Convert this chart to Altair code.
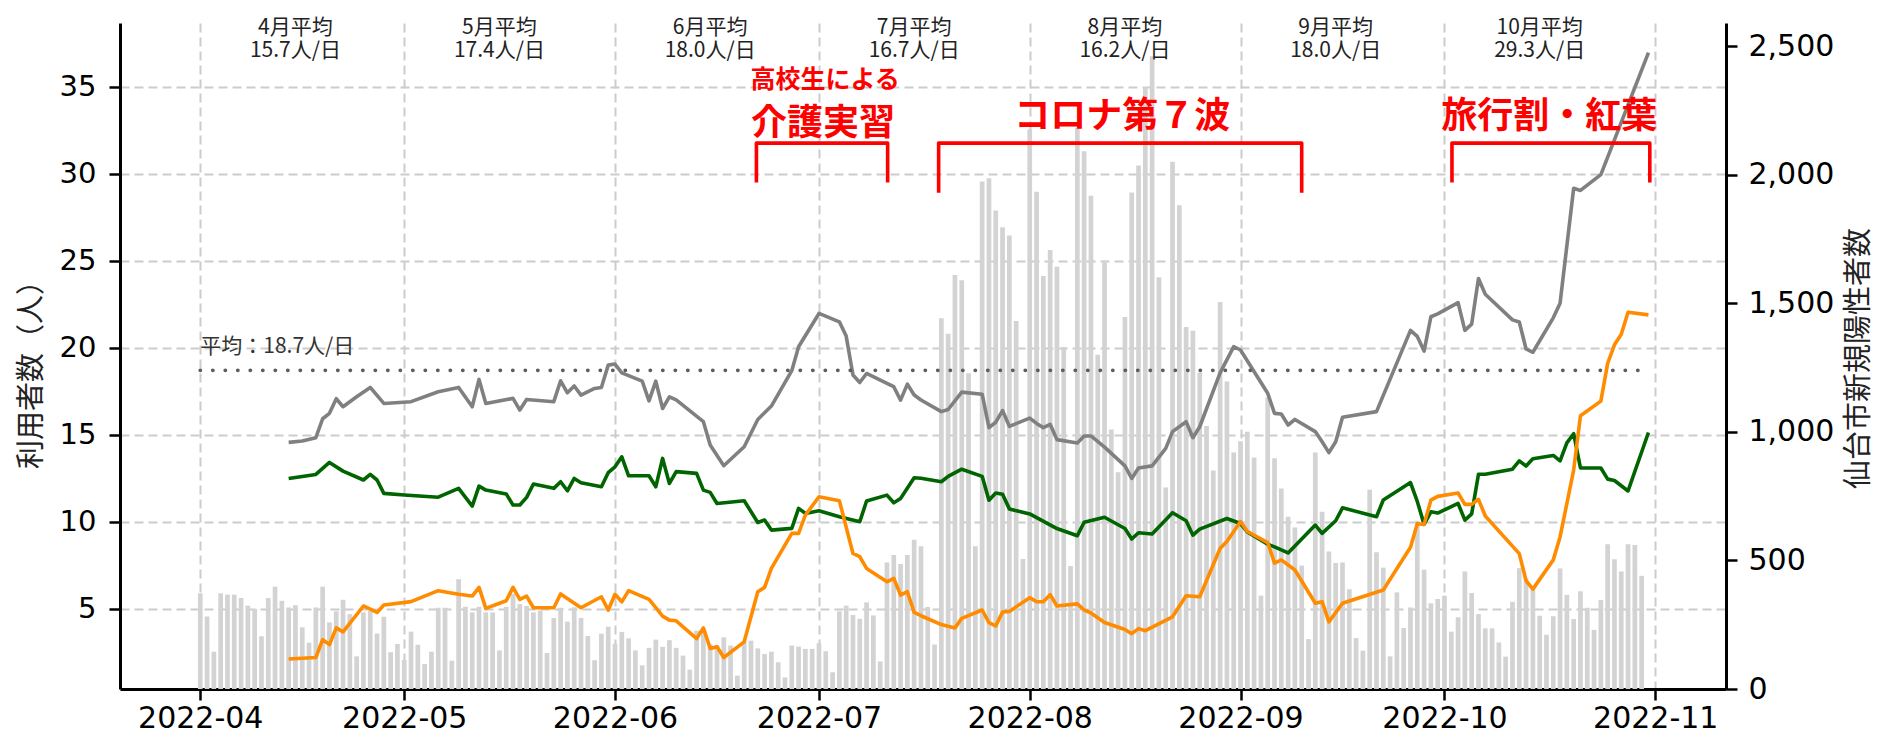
import altair as alt
import pandas as pd

START = pd.Timestamp("2022-04-01")


def iso(d):
    return (START + pd.Timedelta(days=d)).strftime("%Y-%m-%dT%H:%M:%SZ")


def ms(d):
    return int((START + pd.Timedelta(days=d)).value // 1_000_000)


# ---- daily new positives in Sendai (right axis), 2022-04-01 .. 2022-10-30 ----
positives = [
    372, 282, 145, 372, 367, 367, 354, 324, 311, 205,
    354, 398, 343, 317, 326, 240, 180, 317, 398, 259,
    302, 347, 291, 127, 298, 304, 216, 281, 143, 175,
    113, 223, 172, 97, 145, 316, 316, 110, 427, 320,
    298, 320, 298, 298, 150, 320, 370, 330, 323, 298,
    305, 140, 276, 316, 262, 318, 276, 206, 112, 215,
    242, 176, 222, 197, 150, 92, 160, 192, 164, 190,
    160, 130, 75, 227, 221, 175, 171, 201, 169, 52,
    184, 188, 158, 136, 145, 104, 45, 169, 165, 156,
    156, 178, 147, 65, 302, 324, 288, 273, 337, 286,
    107, 492, 521, 486, 521, 580, 555, 319, 173, 1442,
    1382, 1610, 1590, 1228, 555, 1974, 1986, 1861, 1796, 1764,
    1431, 506, 2177, 1934, 1606, 1707, 1642, 1330, 478, 2182,
    2091, 1918, 1300, 1666, 1009, 843, 1447, 1931, 2036, 2340,
    2461, 1601, 784, 2050, 1881, 1408, 1393, 1231, 1023, 850,
    1505, 1196, 920, 963, 1000, 900, 363, 1134, 897, 780,
    670, 628, 480, 194, 920, 689, 535, 490, 492, 388,
    198, 149, 775, 532, 472, 127, 376, 237, 317, 654,
    464, 333, 350, 363, 223, 279, 457, 373, 291, 236,
    236, 181, 126, 339, 470, 430, 395, 285, 211, 283,
    469, 366, 272, 380, 316, 230, 346, 563, 505, 457,
    563, 560, 440,
]

# ---- user counts (left axis); day = days after 2022-04-01 ----
gray_day = [13, 15, 17, 18, 19, 20, 21, 23, 25, 27, 31, 35, 38, 40, 41, 42, 46, 47, 48, 52,
            53, 54, 55, 56, 58, 59, 60, 61, 62, 65, 66, 67, 68, 69, 70, 74, 75, 77, 80, 82,
            84, 87, 88, 91, 94, 95, 96, 97, 98, 101, 102, 103, 104, 105, 106, 109, 110, 112, 115, 116,
            117, 118, 119, 122, 123, 124, 125, 126, 129, 130, 131, 133, 136, 137, 138, 140, 142, 143, 145, 146,
            147, 150, 152, 153, 157, 158, 159, 160, 161, 164, 165, 166, 167, 168, 173, 178, 179, 180, 181, 182,
            185, 186, 187, 188, 189, 193, 194, 195, 196, 199, 200, 202, 203, 206, 213]
gray_val = [14.56, 14.64, 14.83, 15.92, 16.23, 17.07, 16.61, 17.18, 17.72, 16.80, 16.9, 17.47, 17.72, 16.61, 18.18, 16.8, 17.09, 16.42, 17.03, 16.9,
            18.1, 17.41, 17.8, 17.28, 17.66, 17.72, 19.0, 19.06, 18.56, 18.08, 16.95, 18.08, 16.51, 17.18, 17.0, 15.75, 14.41, 13.22, 14.31, 15.88,
            16.65, 18.68, 20.06, 21.97, 21.49, 20.67, 18.43, 18.0, 18.52, 17.95, 17.76, 16.99, 17.91, 17.28, 17.0, 16.33, 16.45, 17.45, 17.33, 15.41,
            15.72, 16.39, 15.48, 15.96, 15.65, 15.41, 15.6, 14.72, 14.53, 14.93, 14.93, 14.29, 13.21, 12.49, 13.09, 13.21, 14.22, 15.18, 15.75, 14.83,
            15.46, 18.56, 20.06, 19.87, 17.38, 16.23, 16.19, 15.56, 15.88, 15.18, 14.6, 13.97, 14.6, 16.0, 16.33, 21.0, 20.65, 19.81, 21.78, 21.95,
            22.59, 21.0, 21.36, 23.98, 23.07, 21.6, 21.48, 19.93, 19.74, 21.72, 22.56, 29.16, 29.04, 29.95, 36.96]

green_day = [13, 17, 19, 21, 24, 25, 26, 27, 30, 35, 38, 40, 41, 42, 45, 46, 47, 48, 49, 52,
             53, 54, 55, 56, 59, 60, 61, 62, 63, 66, 67, 68, 69, 70, 73, 74, 75, 76, 80, 82,
             83, 84, 87, 88, 89, 91, 94, 97, 98, 101, 102, 103, 105, 106, 109, 110, 112, 115, 116, 117,
             118, 119, 122, 126, 129, 130, 133, 136, 137, 138, 140, 143, 145, 146, 147, 151, 153, 154, 157, 158,
             160, 164, 165, 167, 168, 173, 174, 178, 179, 180, 181, 182, 185, 186, 187, 188, 189, 193, 194, 195,
             196, 199, 200, 201, 202, 203, 206, 207, 208, 210, 213]
green_val = [12.49, 12.72, 13.41, 12.91, 12.4, 12.72, 12.4, 11.63, 11.54, 11.41, 11.92, 10.9, 12.05, 11.82, 11.6, 10.96, 10.96, 11.4, 12.17, 11.92,
             12.3, 11.78, 12.49, 12.24, 12.01, 12.82, 13.16, 13.73, 12.64, 12.64, 12.01, 13.64, 12.2, 12.88, 12.78, 11.82, 11.69, 11.05, 11.21, 9.96,
             10.1, 9.52, 9.62, 10.77, 10.48, 10.63, 10.29, 10.0, 11.19, 11.53, 11.09, 11.34, 12.53, 12.5, 12.3, 12.61, 13.02, 12.61, 11.24, 11.65,
             11.58, 10.74, 10.45, 9.61, 9.2, 9.97, 10.26, 9.61, 9.01, 9.37, 9.3, 10.52, 10.06, 9.23, 9.58, 10.19, 9.9, 9.42, 8.71, 8.56,
             8.21, 9.81, 9.33, 10.06, 10.8, 10.29, 11.25, 12.25, 11.17, 9.85, 10.57, 10.5, 11.05, 10.09, 10.45, 12.73, 12.73, 13.02, 13.5, 13.2,
             13.62, 13.81, 13.5, 14.53, 15.06, 13.09, 13.09, 12.45, 12.37, 11.77, 15.13]

orange_day = [13, 17, 18, 19, 20, 21, 24, 26, 27, 31, 35, 38, 40, 41, 42, 45, 46, 47, 48, 49,
              52, 53, 56, 59, 60, 61, 62, 63, 66, 67, 68, 69, 70, 73, 74, 75, 76, 77, 80, 82,
              83, 84, 87, 88, 89, 91, 94, 96, 97, 98, 101, 102, 103, 104, 105, 106, 109, 111, 112, 115,
              116, 117, 118, 119, 122, 123, 124, 125, 126, 129, 130, 131, 133, 136, 137, 138, 139, 143, 145, 147,
              150, 151, 153, 154, 157, 158, 159, 161, 164, 165, 166, 168, 174, 178, 179, 180, 181, 182, 185, 186,
              187, 188, 189, 194, 195, 196, 199, 200, 202, 203, 206, 207, 208, 209, 210, 213]
orange_val = [2.11, 2.2, 3.23, 2.94, 3.9, 3.67, 5.16, 4.79, 5.22, 5.41, 6.04, 5.83, 5.73, 6.23, 5.02, 5.46, 6.23, 5.54, 5.73, 5.06,
              5.06, 5.85, 5.06, 5.69, 4.92, 5.83, 5.4, 6.04, 5.54, 5.06, 4.58, 4.35, 4.31, 3.29, 3.9, 2.72, 2.82, 2.2, 3.1, 5.98,
              6.23, 7.32, 9.33, 9.33, 10.38, 11.44, 11.21, 8.18, 7.99, 7.32, 6.55, 6.75, 5.79, 5.98, 4.79, 4.6, 4.09, 3.9, 4.45, 4.93,
              4.21, 4.02, 4.81, 4.85, 5.64, 5.4, 5.4, 5.81, 5.16, 5.28, 4.93, 4.76, 4.21, 3.81, 3.57, 3.86, 3.74, 4.54, 5.75, 5.69,
              8.47, 8.86, 10.01, 9.44, 8.8, 7.62, 7.81, 7.23, 5.32, 5.41, 4.25, 5.32, 6.08, 8.53, 9.89, 9.85, 11.24, 11.46, 11.65, 11.0,
              11.0, 11.29, 10.33, 8.17, 6.61, 6.13, 7.81, 9.13, 12.97, 16.09, 16.93, 19.1, 20.17, 20.77, 22.04, 21.89]

overall_avg = 18.7
avg_label = "平均：18.7人/日"

month_titles = ["4月平均", "5月平均", "6月平均", "7月平均", "8月平均", "9月平均", "10月平均"]
month_avgs = ["15.7人/日", "17.4人/日", "18.0人/日", "16.7人/日", "16.2人/日", "18.0人/日", "29.3人/日"]
month_mid_day = [14, 44, 75, 105, 136, 167, 197]

red_texts = ["高校生による", "介護実習", "コロナ第７波", "旅行割・紅葉"]
red_text_day = [91.9, 91.6, 135.6, 198.4]
red_text_y = [35.38, 32.86, 33.25, 33.25]
red_text_size = [25, 36, 36, 36]

bracket_left = [81.8, 108.6, 184.1]
bracket_right = [101.1, 162.0, 213.2]
bracket_bottom = [29.5, 28.9, 29.5]
bracket_top = 31.76

# ---- tables ----
bars_df = pd.DataFrame({"date": [iso(i) for i in range(len(positives))], "pos": positives})
lines_df = pd.concat([
    pd.DataFrame({"date": [iso(d) for d in gray_day], "v": gray_val, "s": "a"}),
    pd.DataFrame({"date": [iso(d) for d in green_day], "v": green_val, "s": "b"}),
    pd.DataFrame({"date": [iso(d) for d in orange_day], "v": orange_val, "s": "c"}),
])
avg_df = pd.DataFrame({"x1": [iso(0)], "x2": [iso(213)], "y": [overall_avg]})
avg_txt_df = pd.DataFrame({"x": [iso(0)], "y": [20.05], "t": [avg_label]})
month_df = pd.DataFrame({"x": [iso(d) for d in month_mid_day],
                         "t": [a + "\n" + b for a, b in zip(month_titles, month_avgs)],
                         "y": [38.37] * len(month_titles)})
red_df = pd.DataFrame({"x": [iso(d) for d in red_text_day], "y": red_text_y, "t": red_texts, "fs": red_text_size})
br_rows = []
for k in range(len(bracket_left)):
    pts = [(bracket_left[k], bracket_bottom[k]), (bracket_left[k], bracket_top),
           (bracket_right[k], bracket_top), (bracket_right[k], bracket_bottom[k])]
    for j, (xd, yv) in enumerate(pts):
        br_rows.append({"x": iso(xd), "y": yv, "g": k, "o": j})
br_df = pd.DataFrame(br_rows)

# ---- scales / axes ----
xscale = alt.Scale(type="utc", domain=[ms(-11.07), ms(223.67)], nice=False)
yleft = alt.Scale(domain=[0.39, 38.66], nice=False, zero=False)
yright = alt.Scale(domain=[0, 2590], nice=False, zero=False)

month_ticks = [ms((pd.Timestamp(f"2022-{m:02d}-01") - START).days) for m in range(4, 12)]

xaxis = alt.Axis(values=month_ticks, format="%Y-%m", title=None, grid=True,
                 gridDash=[9, 5], gridColor="#cccccc", gridWidth=2,
                 labelFontSize=30, labelPadding=3, labelColor="black",
                 tickSize=11, tickWidth=2.5, tickColor="black",
                 domainColor="black", domainWidth=3)

left_axis = alt.Axis(
    orient="left", values=[5, 10, 15, 20, 25, 30, 35],
    title="利用者数（人）", titleFont="Noto Sans CJK JP", titleFontSize=29,
    titleFontWeight="normal", titleColor="#222", titleAngle=270, titleX=-89, titleY=344,
    titleAlign="center", titleBaseline="middle",
    grid=True, gridDash=[9, 5], gridColor="#cccccc", gridWidth=2,
    labelFontSize=29, labelPadding=13, labelColor="black",
    tickSize=11, tickWidth=2.5, tickColor="black", domainColor="black", domainWidth=3)

right_axis = alt.Axis(
    orient="right", values=[0, 500, 1000, 1500, 2000, 2500], format=",d",
    title="仙台市新規陽性者数", titleFont="Noto Sans CJK JP", titleFontSize=29,
    titleFontWeight="normal", titleColor="#222", titleAngle=270, titleX=132, titleY=335,
    titleAlign="center", titleBaseline="middle",
    grid=False, labelFontSize=30, labelPadding=11, labelColor="black",
    tickSize=11, tickWidth=2.5, tickColor="black", domainColor="black", domainWidth=3)

X = lambda f: alt.X(f, scale=xscale, axis=xaxis)

bars = alt.Chart(bars_df).mark_bar(color="#d3d3d3", size=4.7).encode(
    x=X("date:T"),
    y=alt.Y("pos:Q", scale=yright, axis=right_axis),
)

lines = alt.Chart(lines_df).mark_line(strokeWidth=3.6, strokeJoin="round").encode(
    x=X("date:T"),
    y=alt.Y("v:Q", scale=yleft, axis=left_axis),
    color=alt.Color("s:N", scale=alt.Scale(domain=["a", "b", "c"], range=["#808080", "#006400", "#ff8c00"]), legend=None),
    order=alt.Order("date:T"),
)

avg_rule = alt.Chart(avg_df).mark_rule(color="#5e5e5e", strokeWidth=3.8, strokeDash=[0.1, 12.4], strokeCap="round").encode(
    x=X("x1:T"), x2="x2:T",
    y=alt.Y("y:Q", scale=yleft, axis=None),
)

avg_text = alt.Chart(avg_txt_df).mark_text(align="left", baseline="middle", fontSize=21,
                                           font="Noto Sans CJK JP", color="#333333").encode(
    x=X("x:T"),
    y=alt.Y("y:Q", scale=yleft, axis=None),
    text="t:N",
)

month_text = alt.Chart(month_df).mark_text(align="center", baseline="middle", fontSize=21,
                                           lineBreak="\n", lineHeight=23,
                                           font="Noto Sans CJK JP", color="#222222").encode(
    x=X("x:T"),
    y=alt.Y("y:Q", scale=yleft, axis=None),
    text="t:N",
)

red_text = alt.Chart(red_df).mark_text(align="center", baseline="middle", font="Noto Sans CJK JP",
                                       fontWeight="bold", color="#ff0000").encode(
    x=X("x:T"),
    y=alt.Y("y:Q", scale=yleft, axis=None),
    text="t:N",
    size=alt.Size("fs:Q", scale=None, legend=None),
)

brackets = alt.Chart(br_df).mark_line(color="#ff0000", strokeWidth=3.6, strokeJoin="round").encode(
    x=X("x:T"),
    y=alt.Y("y:Q", scale=yleft, axis=None),
    detail="g:N",
    order="o:Q",
)

chart = alt.layer(bars, lines, avg_rule, avg_text, month_text, red_text, brackets).resolve_scale(
    y="independent"
).properties(
    width=1606, height=666,
    autosize=alt.AutoSizeParams(type="none"),
    padding={"left": 112, "top": 15, "right": 149, "bottom": 45},
).configure_view(stroke=None).configure_axis(labelFont="DejaVu Sans")

chart.save("out.html", embed_options={"renderer": "svg", "actions": False})
